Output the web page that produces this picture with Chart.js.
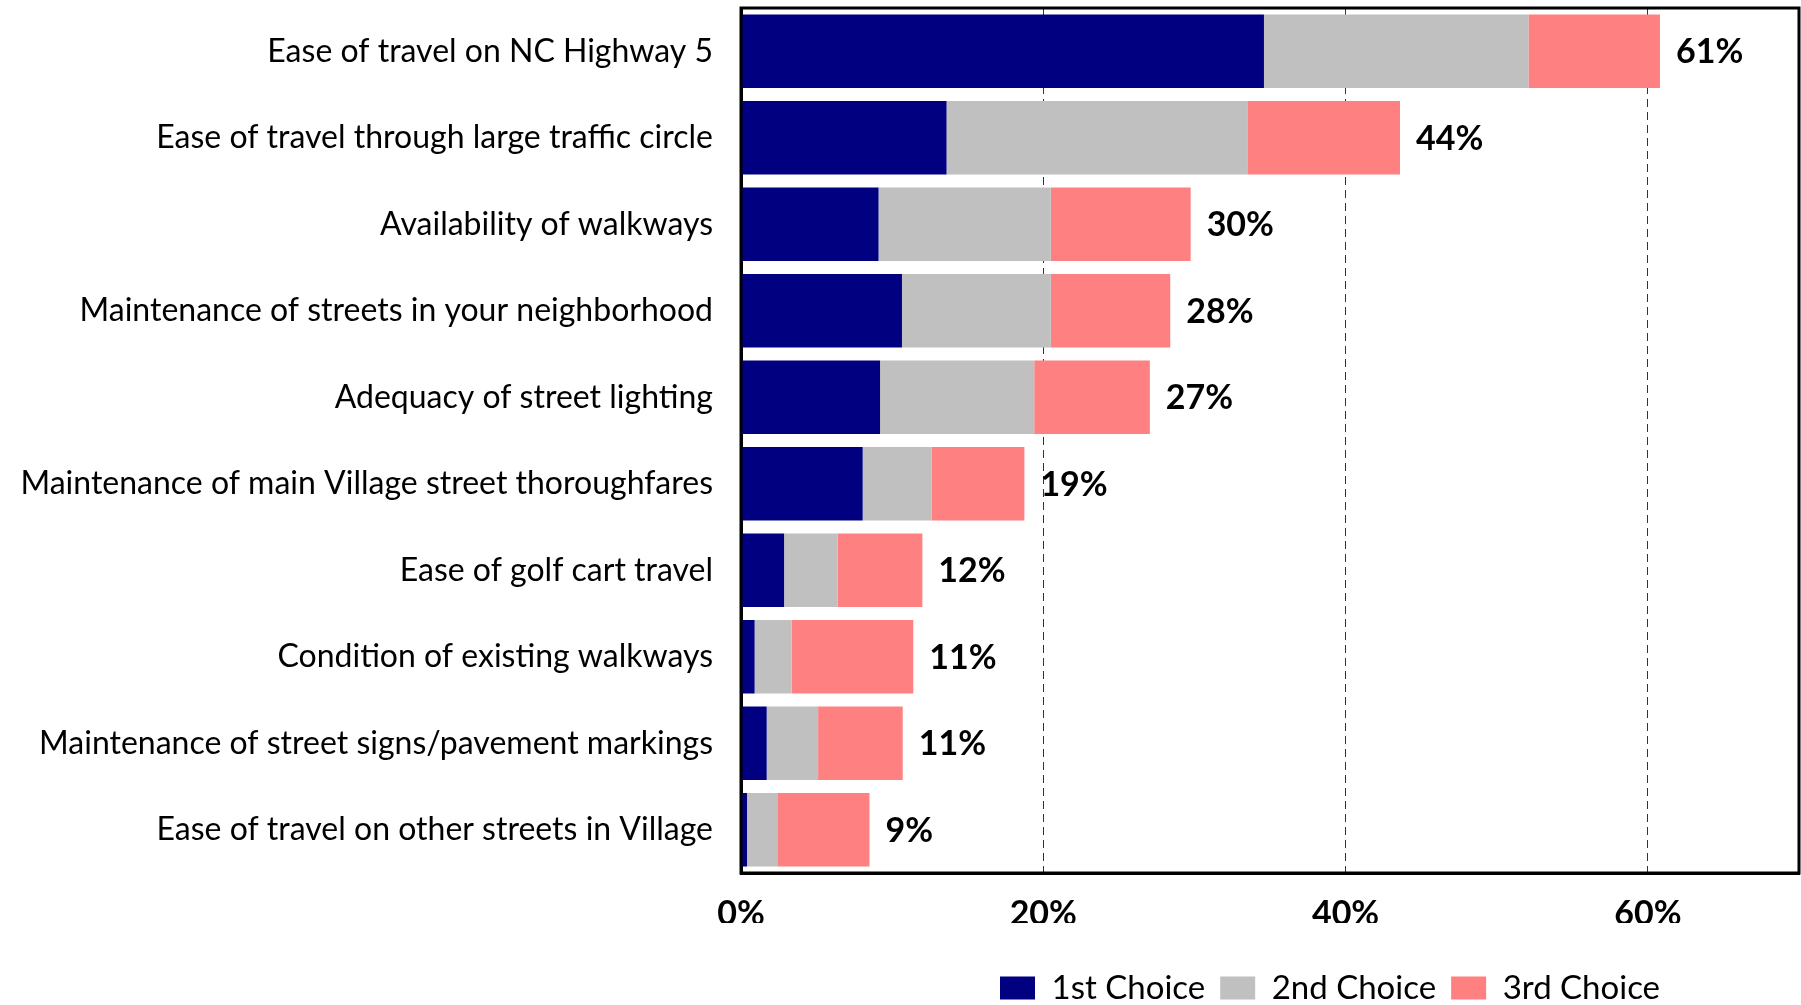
<!DOCTYPE html>
<html>
<head>
<meta charset="utf-8">
<script src="https://cdn.jsdelivr.net/npm/chart.js@4/dist/chart.umd.min.js"></script>
<style>
  html, body { margin: 0; padding: 0; background: #fff; }
  #wrap { width: 1801px; height: 1005px; }
</style>
</head>
<body>
<div id="wrap"><canvas id="chart" width="1801" height="1005"></canvas></div>
<script>
// values (percent of respondents)
const categories = [
  'Ease of travel on NC Highway 5',
  'Ease of travel through large traffic circle',
  'Availability of walkways',
  'Maintenance of streets in your neighborhood',
  'Adequacy of street lighting',
  'Maintenance of main Village street thoroughfares',
  'Ease of golf cart travel',
  'Condition of existing walkways',
  'Maintenance of street signs/pavement markings',
  'Ease of travel on other streets in Village'
];
const firstChoice = [34.6, 13.6, 9.1, 10.65, 9.2, 8.05, 2.85, 0.9, 1.7, 0.4];
const secondChoice = [17.5, 19.9, 11.4, 9.85, 10.2, 4.55, 3.55, 2.45, 3.4, 2.0];
const thirdChoice = [8.7, 10.1, 9.25, 7.9, 7.65, 6.15, 5.6, 8.05, 5.6, 6.1];
const totalLabels = ['61%', '44%', '30%', '28%', '27%', '19%', '12%', '11%', '11%', '9%'];
const seriesNames = ['1st Choice', '2nd Choice', '3rd Choice'];
const xTicks = [0, 20, 40, 60];

const FONT = 'Lato';
Chart.defaults.font.family = FONT;
Chart.defaults.color = '#000';

// totals at the end of each stacked bar
const totalLabelsPlugin = {
  id: 'totalLabels',
  afterDatasetsDraw(chart) {
    const ctx = chart.ctx;
    const meta = chart.getDatasetMeta(chart.data.datasets.length - 1);
    ctx.save();
    ctx.font = 'bold 34px ' + FONT;
    ctx.fillStyle = '#000';
    ctx.textAlign = 'left';
    ctx.textBaseline = 'middle';
    meta.data.forEach((bar, i) => {
      ctx.fillText(totalLabels[i], bar.x + 16, bar.y + 1);
    });
    ctx.restore();
  }
};

// black frame round the plot area
const framePlugin = {
  id: 'frame',
  afterDatasetsDraw(chart) {
    const { ctx, chartArea: a } = chart;
    ctx.save();
    ctx.strokeStyle = '#000';
    ctx.lineWidth = 3;
    ctx.strokeRect(a.left, a.top, a.right - a.left, a.bottom - a.top);
    ctx.restore();
  }
};

// put the legend row where the original has it
const legendPlacePlugin = {
  id: 'legendPlace',
  afterLayout(chart) {
    const lg = chart.legend;
    const pad = lg.options.labels.padding;
    const w = lg.right - lg.left;
    const h = lg.bottom - lg.top;
    lg.left = 1000 - pad;
    lg.right = lg.left + w;
    lg.top = 988 - pad - 33 / 2;
    lg.bottom = lg.top + h;
  }
};

new Chart(document.getElementById('chart'), {
  type: 'bar',
  data: {
    labels: categories,
    datasets: [
      { label: seriesNames[0], data: firstChoice, backgroundColor: '#000080' },
      { label: seriesNames[1], data: secondChoice, backgroundColor: '#C0C0C0' },
      { label: seriesNames[2], data: thirdChoice, backgroundColor: '#FF8080' }
    ]
  },
  options: {
    indexAxis: 'y',
    responsive: false,
    animation: false,
    layout: { padding: { left: 0, right: 2, top: 8, bottom: 24 } },
    datasets: { bar: { barPercentage: 0.85, categoryPercentage: 1, borderWidth: 0 } },
    scales: {
      x: {
        stacked: true,
        min: 0,
        max: 70,
        afterFit: (s) => { s.height = 50; s.paddingLeft = 0; s.paddingRight = 0; },
        afterBuildTicks: (s) => { s.ticks = xTicks.map(v => ({ value: v })); },
        ticks: {
          padding: 21,
          font: { size: 34, weight: 'bold' },
          callback: (v) => v + '%'
        },
        grid: {
          drawTicks: false,
          color: (c) => (c.tick && c.tick.value > 0 ? '#333333' : 'rgba(0,0,0,0)'),
          lineWidth: 1
        },
        border: { display: true, color: '#000', width: 3, dash: [8, 5] }
      },
      y: {
        stacked: true,
        afterFit: (s) => { s.width = 741; s.paddingTop = 0; s.paddingBottom = 0; },
        ticks: { padding: 28, font: { size: 32 } },
        grid: { display: false, drawTicks: false },
        border: { display: true, color: '#000', width: 3 }
      }
    },
    plugins: {
      tooltip: { enabled: false },
      legend: {
        position: 'bottom',
        align: 'start',
        fullSize: false,
        labels: {
          boxWidth: 35,
          boxHeight: 23,
          padding: 15,
          font: { size: 33 }
        }
      }
    }
  },
  plugins: [totalLabelsPlugin, framePlugin, legendPlacePlugin]
});
</script>
</body>
</html>
